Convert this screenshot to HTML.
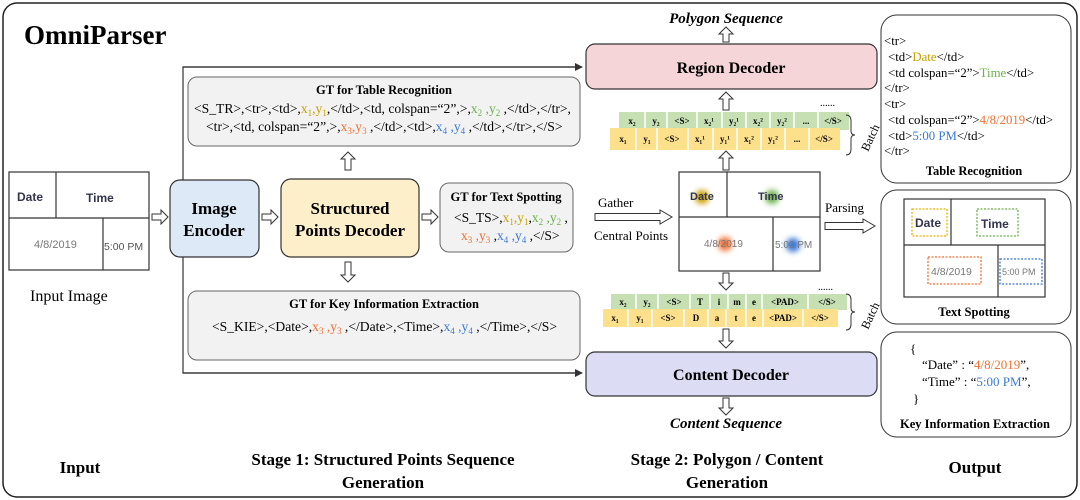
<!DOCTYPE html>
<html><head><meta charset="utf-8"><style>
html,body{margin:0;padding:0;background:#fff;}
svg{display:block;font-family:"Liberation Serif",serif;}
.b{font-weight:bold;}
</style></head><body>
<svg width="1080" height="500" viewBox="0 0 1080 500" xmlns="http://www.w3.org/2000/svg">
<defs>
<filter id="bl" x="-1" y="-1" width="3" height="3"><feGaussianBlur stdDeviation="3"/></filter>
<marker id="ah" markerWidth="8" markerHeight="8" refX="7" refY="4" orient="auto" markerUnits="userSpaceOnUse"><path d="M0,0 L8,4 L0,8 z" fill="#333"/></marker>
</defs>
<rect x="3" y="3" width="1074" height="494" rx="14" fill="#fff" stroke="#222" stroke-width="1.5"/>
<text x="24" y="44" font-size="27" class="b">OmniParser</text>

<g stroke="#333" stroke-width="1.2" fill="none">
<rect x="9" y="172" width="140" height="98" fill="#fff"/>
<line x1="9" y1="218" x2="149" y2="218"/>
<line x1="56" y1="172" x2="56" y2="218"/>
<line x1="103" y1="218" x2="103" y2="270"/>
</g>
<g font-family="Liberation Sans,sans-serif" font-weight="bold" font-size="12" fill="#33334d">
<text x="17" y="201">Date</text><text x="86" y="202">Time</text></g>
<g font-family="Liberation Sans,sans-serif" font-size="11" fill="#777">
<text x="34" y="248">4/8/2019</text><text x="104" y="250" fill="#555" font-size="10.5">5:00 PM</text></g>
<text x="30" y="301" font-size="16">Input Image</text>

<polyline points="580,67 183,67 183,373 580,373" fill="none" stroke="#333" stroke-width="1.2"/>
<line x1="183" y1="67" x2="582" y2="67" stroke="#333" stroke-width="1.2" marker-end="url(#ah)"/>
<line x1="183" y1="373" x2="582" y2="373" stroke="#333" stroke-width="1.2" marker-end="url(#ah)"/>

<rect x="188" y="77" width="392" height="69" rx="9" fill="#f2f2f2" stroke="#666"/>
<text x="384" y="94" font-size="12.5" class="b" text-anchor="middle">GT for Table Recognition</text>
<text x="194" y="113" font-size="13.6">&lt;S_TR&gt;,&lt;tr&gt;,&lt;td&gt;,<tspan fill="#c9a000">x<tspan font-size="9" dy="3">1</tspan><tspan dy="-3">,y</tspan><tspan font-size="9" dy="3">1</tspan></tspan><tspan dy="-3">,&lt;/td&gt;,&lt;td, colspan=“2”,&gt;,</tspan><tspan fill="#6ab04c">x<tspan font-size="9" dy="3">2</tspan><tspan dy="-3"> ,y</tspan><tspan font-size="9" dy="3">2</tspan></tspan><tspan dy="-3"> ,&lt;/td&gt;,&lt;/tr&gt;,</tspan></text>
<text x="206" y="131" font-size="13.6">&lt;tr&gt;,&lt;td, colspan=“2”,&gt;,<tspan fill="#f07030">x<tspan font-size="9" dy="3">3</tspan><tspan dy="-3">,y</tspan><tspan font-size="9" dy="3">3</tspan></tspan><tspan dy="-3"> ,&lt;/td&gt;,&lt;td&gt;,</tspan><tspan fill="#3a78d8">x<tspan font-size="9" dy="3">4</tspan><tspan dy="-3"> ,y</tspan><tspan font-size="9" dy="3">4</tspan></tspan><tspan dy="-3"> ,&lt;/td&gt;,&lt;/tr&gt;,&lt;/S&gt;</tspan></text>

<rect x="170" y="180" width="89" height="77" rx="10" fill="#dde9f6" stroke="#333" stroke-width="1.2"/>
<text x="214" y="214" font-size="17" class="b" text-anchor="middle">Image</text>
<text x="214" y="236" font-size="17" class="b" text-anchor="middle">Encoder</text>

<rect x="281" y="179" width="138" height="78" rx="10" fill="#fdefc9" stroke="#333" stroke-width="1.2"/>
<text x="350" y="214" font-size="17" class="b" text-anchor="middle">Structured</text>
<text x="350" y="236" font-size="17" class="b" text-anchor="middle">Points Decoder</text>

<rect x="440" y="183" width="133" height="69" rx="9" fill="#f2f2f2" stroke="#666"/>
<text x="506" y="201" font-size="12.5" class="b" text-anchor="middle">GT for Text Spotting</text>
<text x="454" y="222" font-size="13.5">&lt;S_TS&gt;,<tspan fill="#c9a000">x<tspan font-size="9" dy="3">1</tspan><tspan dy="-3">,y</tspan><tspan font-size="9" dy="3">1</tspan></tspan><tspan dy="-3">,</tspan><tspan fill="#6ab04c">x<tspan font-size="9" dy="3">2</tspan><tspan dy="-3"> ,y</tspan><tspan font-size="9" dy="3">2</tspan></tspan><tspan dy="-3"> ,</tspan></text>
<text x="461" y="240" font-size="13.5"><tspan fill="#f07030">x<tspan font-size="9" dy="3">3</tspan><tspan dy="-3"> ,y</tspan><tspan font-size="9" dy="3">3</tspan></tspan><tspan dy="-3"> ,</tspan><tspan fill="#3a78d8">x<tspan font-size="9" dy="3">4</tspan><tspan dy="-3"> ,y</tspan><tspan font-size="9" dy="3">4</tspan></tspan><tspan dy="-3"> ,&lt;/S&gt;</tspan></text>

<rect x="188" y="291" width="392" height="69" rx="9" fill="#f2f2f2" stroke="#666"/>
<text x="384" y="308" font-size="12.5" class="b" text-anchor="middle">GT for Key Information Extraction</text>
<text x="212" y="331" font-size="13.6">&lt;S_KIE&gt;,&lt;Date&gt;,<tspan fill="#f07030">x<tspan font-size="9" dy="3">3</tspan><tspan dy="-3"> ,y</tspan><tspan font-size="9" dy="3">3</tspan></tspan><tspan dy="-3"> ,&lt;/Date&gt;,&lt;Time&gt;,</tspan><tspan fill="#3a78d8">x<tspan font-size="9" dy="3">4</tspan><tspan dy="-3"> ,y</tspan><tspan font-size="9" dy="3">4</tspan></tspan><tspan dy="-3"> ,&lt;/Time&gt;,&lt;/S&gt;</tspan></text>

<g fill="#fff" stroke="#333" stroke-width="1">
<polygon points="152,214 161,214 161,210 168,217 161,224 161,220 152,220"/>
<polygon points="262,214 271,214 271,210 278,217 271,224 271,220 262,220"/>
<polygon points="422,214 431,214 431,210 438,217 431,224 431,220 422,220"/>
<polygon points="345,170 345,159 341,159 348,152 355,159 351,159 351,170"/>
<polygon points="345,262 345,275 341,275 348,282 355,275 351,275 351,262"/>
<polygon points="723,42 723,34 719,34 726,27 733,34 729,34 729,42"/>
<polygon points="723,110 723,99 719,99 726,92 733,99 729,99 729,110"/>
<polygon points="723,170 723,158 719,158 726,151 733,158 729,158 729,170"/>
<polygon points="723,273 723,283 719,283 726,290 733,283 729,283 729,273"/>
<polygon points="723,329 723,341 719,341 726,348 733,341 729,341 729,329"/>
<polygon points="723,398 723,408 719,408 726,415 733,408 729,408 729,398"/>
<polygon points="595,213.5 660,213.5 660,210 672,217 660,224 660,220.5 595,220.5"/>
<polygon points="825,222.5 863,222.5 863,219 875,226 863,233 863,229.5 825,229.5"/>
</g>

<text x="726" y="23" font-size="15" class="b" font-style="italic" text-anchor="middle">Polygon Sequence</text>
<rect x="586" y="44" width="291" height="45" rx="9" fill="#f6d5d8" stroke="#333" stroke-width="1.2"/>
<text x="731" y="73" font-size="16" class="b" text-anchor="middle">Region Decoder</text>

<g font-size="9" class="b" text-anchor="middle">
<rect x="619" y="112" width="230" height="18" fill="#c6e0b4"/>
<g stroke="#fff" stroke-width="1.5"><line x1="645" y1="112" x2="645" y2="130"/><line x1="667" y1="112" x2="667" y2="130"/><line x1="697" y1="112" x2="697" y2="130"/><line x1="722" y1="112" x2="722" y2="130"/><line x1="746" y1="112" x2="746" y2="130"/><line x1="770" y1="112" x2="770" y2="130"/><line x1="794" y1="112" x2="794" y2="130"/><line x1="818" y1="112" x2="818" y2="130"/></g>
<text x="632" y="124">x₂</text><text x="656" y="124">y₂</text><text x="682" y="124">&lt;S&gt;</text><text x="709" y="124">x₂¹</text><text x="734" y="124">y₂¹</text><text x="758" y="124">x₂²</text><text x="782" y="124">y₂²</text><text x="806" y="124">...</text><text x="833" y="124">&lt;/S&gt;</text>
<rect x="610" y="128" width="230" height="22" fill="#fde08c"/>
<g stroke="#fff" stroke-width="1.5"><line x1="636" y1="128" x2="636" y2="150"/><line x1="657" y1="128" x2="657" y2="150"/><line x1="688" y1="128" x2="688" y2="150"/><line x1="713" y1="128" x2="713" y2="150"/><line x1="737" y1="128" x2="737" y2="150"/><line x1="761" y1="128" x2="761" y2="150"/><line x1="785" y1="128" x2="785" y2="150"/><line x1="809" y1="128" x2="809" y2="150"/></g>
<text x="623" y="142">x₁</text><text x="647" y="142">y₁</text><text x="672" y="142">&lt;S&gt;</text><text x="700" y="142">x₁¹</text><text x="725" y="142">y₁¹</text><text x="749" y="142">x₁²</text><text x="773" y="142">y₁²</text><text x="797" y="142">...</text><text x="824" y="142">&lt;/S&gt;</text>

<rect x="611" y="294" width="236" height="16" fill="#c6e0b4"/>
<g stroke="#fff" stroke-width="1.5"><line x1="636" y1="294" x2="636" y2="310"/><line x1="658" y1="294" x2="658" y2="310"/><line x1="690" y1="294" x2="690" y2="310"/><line x1="710" y1="294" x2="710" y2="310"/><line x1="728" y1="294" x2="728" y2="310"/><line x1="746" y1="294" x2="746" y2="310"/><line x1="762" y1="294" x2="762" y2="310"/><line x1="808" y1="294" x2="808" y2="310"/></g>
<text x="623" y="305">x₂</text><text x="647" y="305">y₂</text><text x="674" y="305">&lt;S&gt;</text><text x="700" y="305">T</text><text x="719" y="305">i</text><text x="737" y="305">m</text><text x="754" y="305">e</text><text x="785" y="305">&lt;PAD&gt;</text><text x="827" y="305">&lt;/S&gt;</text>
<rect x="603" y="309" width="235" height="18" fill="#fde08c"/>
<g stroke="#fff" stroke-width="1.5"><line x1="628" y1="309" x2="628" y2="327"/><line x1="652" y1="309" x2="652" y2="327"/><line x1="684" y1="309" x2="684" y2="327"/><line x1="708" y1="309" x2="708" y2="327"/><line x1="726" y1="309" x2="726" y2="327"/><line x1="746" y1="309" x2="746" y2="327"/><line x1="763" y1="309" x2="763" y2="327"/><line x1="803" y1="309" x2="803" y2="327"/></g>
<text x="615" y="321">x₁</text><text x="640" y="321">y₁</text><text x="668" y="321">&lt;S&gt;</text><text x="696" y="321">D</text><text x="717" y="321">a</text><text x="736" y="321">t</text><text x="754" y="321">e</text><text x="783" y="321">&lt;PAD&gt;</text><text x="820" y="321">&lt;/S&gt;</text>
</g>
<text x="820" y="106" font-size="10">......</text>
<text x="818" y="290" font-size="10">......</text>
<path d="M846,115 q5,0 5,6 v10 q0,4 4,4 q-4,0 -4,4 v10 q0,6 -5,6" fill="none" stroke="#333" stroke-width="1"/>
<text transform="translate(868,152) rotate(-65)" font-size="12">Batch</text>
<path d="M846,294 q5,0 5,6 v8 q0,4 4,4 q-4,0 -4,4 v8 q0,6 -5,6" fill="none" stroke="#333" stroke-width="1"/>
<text transform="translate(868,330) rotate(-65)" font-size="12">Batch</text>

<g stroke="#333" stroke-width="1.2" fill="none">
<rect x="679" y="172" width="141" height="99" fill="#fff"/>
<line x1="679" y1="217" x2="820" y2="217"/>
<line x1="727" y1="172" x2="727" y2="217"/>
<line x1="773" y1="217" x2="773" y2="271"/>
</g>
<g filter="url(#bl)">
<circle cx="702" cy="197" r="7" fill="#c9a000"/>
<circle cx="772" cy="197" r="7" fill="#6ab04c"/>
<circle cx="725" cy="244" r="7" fill="#f07030"/>
<circle cx="793" cy="245" r="7" fill="#3a78d8"/>
</g>
<g font-family="Liberation Sans,sans-serif" font-weight="bold" font-size="11" fill="#33334d">
<text x="690" y="200">Date</text><text x="758" y="200">Time</text></g>
<g font-family="Liberation Sans,sans-serif" font-size="10" fill="#777">
<text x="704" y="247">4/8/2019</text><text x="775" y="248">5:00 PM</text></g>
<text x="598" y="207" font-size="13">Gather</text>
<text x="594" y="240" font-size="13">Central Points</text>
<text x="825" y="212" font-size="13">Parsing</text>

<rect x="586" y="352" width="291" height="44" rx="9" fill="#dcdcf5" stroke="#333" stroke-width="1.2"/>
<text x="731" y="380" font-size="16" class="b" text-anchor="middle">Content Decoder</text>
<text x="726" y="428" font-size="15" class="b" font-style="italic" text-anchor="middle">Content Sequence</text>

<rect x="881" y="15" width="190" height="168" rx="16" fill="#fff" stroke="#333"/>
<g font-size="12.8">
<text x="884" y="45">&lt;tr&gt;</text>
<text x="888" y="61">&lt;td&gt;<tspan fill="#c9a000">Date</tspan>&lt;/td&gt;</text>
<text x="888" y="77">&lt;td colspan=“2”&gt;<tspan fill="#6ab04c">Time</tspan>&lt;/td&gt;</text>
<text x="884" y="92">&lt;/tr&gt;</text>
<text x="884" y="108">&lt;tr&gt;</text>
<text x="888" y="124">&lt;td colspan=“2”&gt;<tspan fill="#f07030">4/8/2019</tspan>&lt;/td&gt;</text>
<text x="888" y="140">&lt;td&gt;<tspan fill="#3a78d8">5:00 PM</tspan>&lt;/td&gt;</text>
<text x="884" y="155">&lt;/tr&gt;</text>
</g>
<text x="974" y="175" font-size="12.5" class="b" text-anchor="middle">Table Recognition</text>

<rect x="881" y="190" width="190" height="134" rx="16" fill="#fff" stroke="#333"/>
<g stroke="#333" stroke-width="1.2" fill="none">
<rect x="904" y="199" width="141" height="98"/>
<line x1="904" y1="245" x2="1045" y2="245"/>
<line x1="951" y1="199" x2="951" y2="245"/>
<line x1="998" y1="245" x2="998" y2="297"/>
</g>
<g fill="none" stroke-width="1.3" stroke-dasharray="2,1.5">
<rect x="912" y="209" width="35" height="27" stroke="#f0b000"/>
<rect x="977" y="209" width="41" height="27" stroke="#6ab04c"/>
<rect x="928" y="257" width="53" height="27" stroke="#f07030"/>
<rect x="1000" y="259" width="42" height="25" stroke="#3a78d8"/>
</g>
<g font-family="Liberation Sans,sans-serif" font-weight="bold" font-size="12" fill="#33334d">
<text x="915" y="227">Date</text><text x="981" y="228">Time</text></g>
<g font-family="Liberation Sans,sans-serif" font-size="10.5" fill="#777">
<text x="931" y="275">4/8/2019</text><text x="1002" y="275" font-size="9">5:00 PM</text></g>
<text x="974" y="316" font-size="12.5" class="b" text-anchor="middle">Text Spotting</text>

<rect x="881" y="332" width="190" height="105" rx="16" fill="#fff" stroke="#333"/>
<g font-size="13">
<text x="910" y="353">{</text>
<text x="922" y="369">“Date” : “<tspan fill="#f07030">4/8/2019</tspan>”,</text>
<text x="922" y="386">“Time” : “<tspan fill="#3a78d8">5:00 PM</tspan>”,</text>
<text x="913" y="403">}</text>
</g>
<text x="975" y="428" font-size="12.5" class="b" text-anchor="middle">Key Information Extraction</text>

<g font-size="17" class="b" text-anchor="middle">
<text x="80" y="473">Input</text>
<text x="383" y="465">Stage 1: Structured Points Sequence</text>
<text x="383" y="488">Generation</text>
<text x="727" y="465">Stage 2: Polygon / Content</text>
<text x="727" y="488">Generation</text>
<text x="975" y="473">Output</text>
</g>
</svg>
</body></html>
